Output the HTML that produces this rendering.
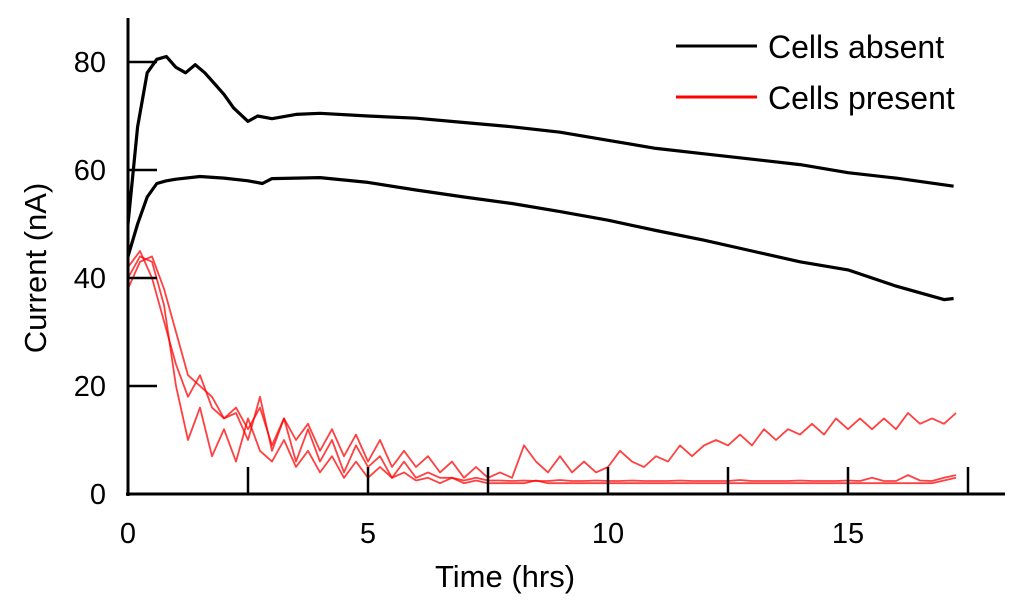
<!DOCTYPE html>
<html><head><meta charset="utf-8"><style>
body{margin:0;background:#fff}
svg{display:block;font-family:"Liberation Sans",Arial,sans-serif}
</style></head><body>
<svg id="chart" width="1024" height="614" viewBox="0 0 1024 614" xmlns="http://www.w3.org/2000/svg">
<g id="marks"></g>
<g id="axes"></g>
<text x="505" y="587" font-size="31" text-anchor="middle">Time (hrs)</text>
<text transform="translate(46,268) rotate(-90)" font-size="31" text-anchor="middle">Current (nA)</text>
<g>
<line x1="676" y1="46" x2="757" y2="46" stroke="#000" stroke-width="3"/>
<text x="768" y="58" font-size="32">Cells absent</text>
<line x1="676" y1="97" x2="757" y2="97" stroke="#f00" stroke-width="3"/>
<text x="768" y="109" font-size="32">Cells present</text>
</g>
</svg>
<script>
const blackTopT=[0,0.2,0.4,0.6,0.8,1.0,1.2,1.4,1.6,1.8,2.0,2.2,2.5,2.7,3.0,3.5,4,5,6,7,8,9,10,11,12,13,14,15,16,17.2];
const blackTopV=[50,68,78,80.5,81,79,78,79.5,78,76,74,71.5,69,70,69.5,70.3,70.5,70,69.6,68.8,68,67,65.5,64,63,62,61,59.5,58.5,57];
const blackBotT=[0,0.2,0.4,0.6,0.8,1,1.5,2,2.5,2.8,3,4,5,6,7,8,9,10,11,12,13,14,15,16,17,17.2];
const blackBotV=[44,50,55,57.5,58,58.3,58.8,58.5,58,57.5,58.4,58.6,57.7,56.3,55,53.8,52.3,50.7,48.8,47,45,43,41.5,38.5,36,36.2];
const redA=[38,43,44,38,30,22,20,18,14,16,12,16,9,14,10,13,8,12,7,11,6,10,5,8,5,7,4,6,3,5,3,4,
3,9,6,4,7,4,6,4,5,8,6,5,7,6,9,7,9,10,9,11,9,12,10,12,11,13,11,14,12,14,12,14,12,15,13,14,13,15];
const redB=[42,45,40,32,24,18,22,16,14,15,10,18,8,14,6,12,6,10,4,9,5,7,3,6,3,4,3,3,2.5,3,2.5,2.5,
2.4,2.5,2.4,2.4,2.6,2.4,2.4,2.5,2.4,2.4,2.5,2.4,2.4,2.4,2.5,2.4,2.4,2.4,2.4,2.6,2.4,2.4,2.4,2.4,2.5,2.4,2.4,2.4,2.5,2.4,3,2.4,2.4,3.5,2.5,2.4,3,3.5];
const redC=[40,44,43,35,20,10,16,7,12,6,14,8,6,10,5,8,4,7,3,6,3,5,3,4,2.5,3,2,3,2,2.5,2,2,
2,2,2.5,2,2,2,2,2,2,2,2,2,2,2,2,2,2,2,2,2,2,2,2,2,2,2,2,2,2,2,2,2,2,2,2,2,2.5,3];
const redStep=0.25;
const yTicks=[0,20,40,60,80];
const xLabels=[0,5,10,15];
const xTickMarks=[2.5,5,7.5,10,12.5,15,17.5];

const X0=128,Y0=494,PXH=48,PXN=108/20;
const sx=t=>X0+t*PXH, sy=v=>Y0-v*PXN;
const NS="http://www.w3.org/2000/svg";
const marks=document.getElementById('marks'), axes=document.getElementById('axes');
function mk(tag,attrs,parent){const e=document.createElementNS(NS,tag);for(const k in attrs)e.setAttribute(k,attrs[k]);parent.appendChild(e);return e;}
function line(ts,vs,color,w,name){
  const d=ts.map((t,i)=>(i?'L':'M')+sx(t).toFixed(1)+' '+sy(vs[i]).toFixed(1)).join(' ');
  const p=mk('path',{d:d,fill:'none',stroke:color,'stroke-width':w,'stroke-linejoin':'round'},marks);
  
  
}
function redLine(vs,name){line(vs.map((_,i)=>i*redStep),vs,'rgba(255,0,0,0.75)',1.8,name);}
redLine(redA,'series-present-1');
redLine(redB,'series-present-2');
redLine(redC,'series-present-3');
line(blackTopT,blackTopV,'#000',3.2,'series-absent-1');
line(blackBotT,blackBotV,'#000',3.2,'series-absent-2');

const ya=mk('line',{x1:X0,y1:18,x2:X0,y2:Y0+2,stroke:'#000','stroke-width':3},axes);


const xa=mk('line',{x1:X0-2,y1:Y0,x2:1005,y2:Y0,stroke:'#000','stroke-width':3},axes);


yTicks.forEach(v=>{
  if(v>0){const t=mk('line',{x1:X0,y1:sy(v),x2:X0+29,y2:sy(v),stroke:'#000','stroke-width':2.5},axes);
  
  }
  const l=mk('text',{x:106,y:sy(v)+10,'font-size':29,'text-anchor':'end'},axes);l.textContent=v;
  
  
});
xTickMarks.forEach(v=>{
  const t=mk('line',{x1:sx(v),y1:Y0,x2:sx(v),y2:Y0-27,stroke:'#000','stroke-width':2.5},axes);
  
  
});
xLabels.forEach(v=>{
  const l=mk('text',{x:sx(v),y:543,'font-size':29,'text-anchor':'middle'},axes);l.textContent=v;
  
  
});
</script>
</body></html>
